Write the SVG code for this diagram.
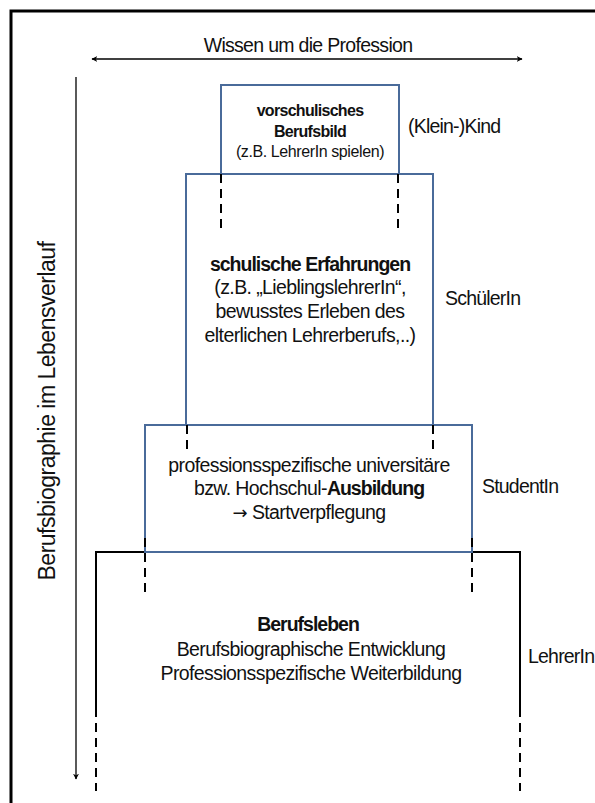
<svg xmlns="http://www.w3.org/2000/svg" width="595" height="803" viewBox="0 0 595 803">
<defs>
<marker id="ah" viewBox="0 0 10 10" refX="9" refY="5" markerWidth="6" markerHeight="6" markerUnits="userSpaceOnUse" orient="auto-start-reverse">
<path d="M0,0 L10,5 L0,10 L3,5 Z" fill="#000"/>
</marker>
<style>
text{font-family:"Liberation Sans",Arial,sans-serif;fill:#111;}
.t{font-size:19.5px;letter-spacing:-0.6px;text-anchor:middle;}
.s{font-size:16px;letter-spacing:-0.4px;text-anchor:middle;}
.lab{font-size:19.5px;letter-spacing:-0.8px;}
.b{font-weight:bold;letter-spacing:-1px;}
.s.b{letter-spacing:-0.7px;}
.box{fill:none;stroke:#4a6b9a;stroke-width:2;}
.solid{fill:none;stroke:#000;stroke-width:2;}
.dash{fill:none;stroke:#000;stroke-width:2;stroke-dasharray:9 6;}
.arr{fill:none;stroke:#000;stroke-width:1.3;}
.ar{font-family:"DejaVu Sans",sans-serif;font-size:18px;}
</style>
</defs>
<rect x="11" y="11" width="600" height="800" fill="none" stroke="#000" stroke-width="3"/>
<g id="axes">
<text class="t" x="308" y="52" style="letter-spacing:-0.7px">Wissen um die Profession</text>
<line class="arr" x1="92" y1="59" x2="522" y2="59" marker-start="url(#ah)" marker-end="url(#ah)"/>
<line class="arr" x1="76" y1="77" x2="76" y2="779" marker-end="url(#ah)"/>
<text transform="translate(55,411) rotate(-90)" style="font-size:23px;letter-spacing:-0.5px;text-anchor:middle">Berufsbiographie im Lebensverlauf</text>
</g>
<g id="berufsleben">
<path class="solid" d="M96,717 V552 H520 V717"/>
<text class="t b" x="308" y="631">Berufsleben</text>
<text class="t" x="311" y="656">Berufsbiographische Entwicklung</text>
<text class="t" x="311" y="680">Professionsspezifische Weiterbildung</text>
<text class="lab" x="528" y="663">LehrerIn</text>
</g>
<g id="schule">
<rect class="box" x="186" y="174" width="247" height="251"/>
<text class="t b" x="310" y="271">schulische Erfahrungen</text>
<text class="t" x="310" y="294">(z.B. „LieblingslehrerIn“,</text>
<text class="t" x="310" y="318">bewusstes Erleben des</text>
<text class="t" x="310" y="342">elterlichen Lehrerberufs,..)</text>
<text class="lab" x="445" y="305">SchülerIn</text>
</g>
<g id="vorschule">
<rect class="box" x="221" y="85" width="178" height="89"/>
<text class="s b" x="310" y="116">vorschulisches</text>
<text class="s b" x="310" y="137">Berufsbild</text>
<text class="s" x="310" y="157">(z.B. LehrerIn spielen)</text>
<text class="lab" x="408" y="133">(Klein-)Kind</text>
</g>
<g id="studium">
<rect x="145" y="425" width="327" height="127" fill="#fff" stroke="#4a6b9a" stroke-width="2"/>
<text class="t" x="309" y="472">professionsspezifische universitäre</text>
<text class="t" x="309" y="495">bzw. Hochschul-<tspan class="b">Ausbildung</tspan></text>
<text class="t" x="309" y="519"><tspan class="ar">→</tspan> Startverpflegung</text>
<text class="lab" x="482" y="493">StudentIn</text>
</g>
<g id="connectors">
<line class="dash" x1="221" y1="174" x2="221" y2="231"/>
<line class="dash" x1="398" y1="174" x2="398" y2="231"/>
<line class="dash" x1="187" y1="425" x2="187" y2="450"/>
<line class="dash" x1="433" y1="425" x2="433" y2="450"/>
<line class="dash" x1="145" y1="538" x2="145" y2="595"/>
<line class="dash" x1="472" y1="538" x2="472" y2="595"/>
<line class="dash" x1="96" y1="723" x2="96" y2="791"/>
<line class="dash" x1="520" y1="723" x2="520" y2="791"/>
</g>
</svg>
